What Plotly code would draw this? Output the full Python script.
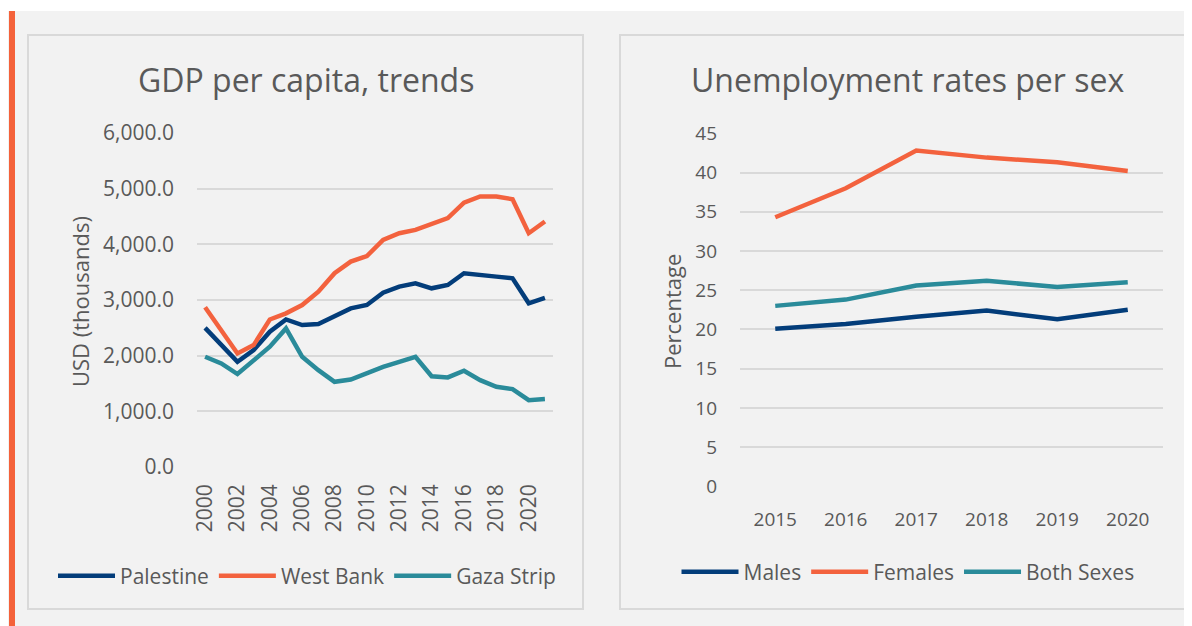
import plotly.graph_objects as go

# ---- data ----
gdp_years = list(range(2000, 2022))
palestine = [2500, 2190, 1890, 2100, 2430, 2650, 2550, 2570, 2700, 2850, 2910,
             3130, 3240, 3300, 3210, 3270, 3480, 3460, 3420, 3390, 2940, 3040]
west_bank = [2870, 2460, 2040, 2190, 2650, 2760, 2910, 3150, 3480, 3690, 3790,
             4080, 4200, 4260, 4370, 4470, 4750, 4860, 4860, 4810, 4200, 4410]
gaza = [1980, 1860, 1670, 1920, 2160, 2490, 1980, 1740, 1530, 1570, 1690,
        1800, 1890, 1980, 1630, 1610, 1730, 1560, 1440, 1400, 1200, 1220]
gdp_tick_years = list(range(2000, 2021, 2))

unemp_years = [2015, 2016, 2017, 2018, 2019, 2020]
males = [20.1, 20.7, 21.6, 22.4, 21.3, 22.5]
females = [34.3, 38.0, 42.8, 41.9, 41.3, 40.2]
both = [23.0, 23.8, 25.6, 26.2, 25.4, 26.0]

NAVY = "#033d7a"
ORANGE = "#f3623e"
TEAL = "#2a8b9a"
TXT = "#595959"
GRID = "#d9d9d9"
BG = "#f2f2f2"
FONT = "Open Sans"

W, H = 1192, 626
OFF = 8  # page body margin


def px(x):
    return (x - OFF) / W


def py(y):
    return 1 - (y - OFF) / H


fig = go.Figure()

for name, vals, col in [("Palestine", palestine, NAVY), ("West Bank", west_bank, ORANGE),
                        ("Gaza Strip", gaza, TEAL)]:
    fig.add_trace(go.Scatter(x=gdp_years, y=vals, name=name, mode="lines",
                             line=dict(color=col, width=4.5), xaxis="x", yaxis="y",
                             legend="legend"))

for name, vals, col in [("Males", males, NAVY), ("Females", females, ORANGE),
                        ("Both Sexes", both, TEAL)]:
    fig.add_trace(go.Scatter(x=unemp_years, y=vals, name=name, mode="lines",
                             line=dict(color=col, width=4.5), xaxis="x2", yaxis="y2",
                             legend="legend2"))

shapes = [
    dict(type="rect", xref="paper", yref="paper", x0=px(-20), x1=px(1250), y0=py(680), y1=py(11),
         fillcolor=BG, line=dict(width=0), layer="below"),
    dict(type="rect", xref="paper", yref="paper", x0=px(9), x1=px(15), y0=py(680), y1=py(11),
         fillcolor="#f4623a", line=dict(width=0), layer="below"),
    dict(type="rect", xref="paper", yref="paper", x0=px(28), x1=px(583), y0=py(609), y1=py(35),
         fillcolor=BG, line=dict(color=GRID, width=2), layer="below"),
    dict(type="rect", xref="paper", yref="paper", x0=px(620), x1=px(1220), y0=py(609), y1=py(35),
         fillcolor=BG, line=dict(color=GRID, width=2), layer="below"),
]

annotations = [
    dict(text="GDP per capita, trends", x=px(306), y=py(80), xref="paper", yref="paper",
         showarrow=False, font=dict(size=32, color=TXT, family=FONT), xanchor="center", yanchor="middle"),
    dict(text="Unemployment rates per sex", x=px(907), y=py(80), xref="paper", yref="paper",
         showarrow=False, font=dict(size=32, color=TXT, family=FONT), xanchor="center", yanchor="middle"),
    dict(text="USD (thousands)", x=px(80), y=py(302), xref="paper", yref="paper", textangle=-90,
         showarrow=False, font=dict(size=22, color=TXT, family=FONT), xanchor="center", yanchor="middle"),
    dict(text="Percentage", x=px(672), y=py(312), xref="paper", yref="paper", textangle=-90,
         showarrow=False, font=dict(size=22, color=TXT, family=FONT), xanchor="center", yanchor="middle"),
]

tick_left = dict(size=21, color=TXT, family=FONT)
tick_right = dict(size=19, color=TXT, family=FONT)

fig.update_layout(
    template="none",
    width=W, height=H,
    margin=dict(l=0, r=0, t=0, b=0, pad=0, autoexpand=False),
    paper_bgcolor="white", plot_bgcolor="rgba(0,0,0,0)",
    font=dict(family=FONT, color=TXT),
    shapes=shapes, annotations=annotations,
    xaxis=dict(domain=[px(197), px(553)], range=[1999.5, 2021.5], tickvals=gdp_tick_years,
               tickangle=-90, tickfont=tick_left, showgrid=False, zeroline=False,
               showline=False, ticks="", anchor="y", automargin=False, ticklabelstandoff=12),
    yaxis=dict(domain=[py(467), py(133)], range=[0, 6000], dtick=1000, tickformat=",.1f",
               tickfont=tick_left, showgrid=True, gridcolor=GRID, gridwidth=1.5,
               zeroline=False, showline=False, ticks="", anchor="x", ticklabelstandoff=22,
               automargin=False),
    xaxis2=dict(domain=[px(740), px(1163)], range=[2014.5, 2020.5], tickvals=unemp_years,
                tickfont=tick_right, showgrid=False, zeroline=False, showline=False, ticks="",
                anchor="y2", automargin=False, ticklabelstandoff=20),
    yaxis2=dict(domain=[py(486.3), py(133.3)], range=[0, 45], dtick=5, tickfont=tick_right,
                showgrid=True, gridcolor=GRID, gridwidth=1.5, zeroline=False, showline=False,
                ticks="", anchor="x2", ticklabelstandoff=22, automargin=False),
    legend=dict(orientation="h", x=px(307), y=py(576), xanchor="center", yanchor="middle",
                font=dict(size=21, color=TXT, family=FONT), bgcolor="rgba(0,0,0,0)",
                itemwidth=57, tracegroupgap=0),
    legend2=dict(orientation="h", x=px(908), y=py(572), xanchor="center", yanchor="middle",
                 font=dict(size=21, color=TXT, family=FONT), bgcolor="rgba(0,0,0,0)",
                 itemwidth=57, tracegroupgap=0),
)

fig.write_html("out.html")
